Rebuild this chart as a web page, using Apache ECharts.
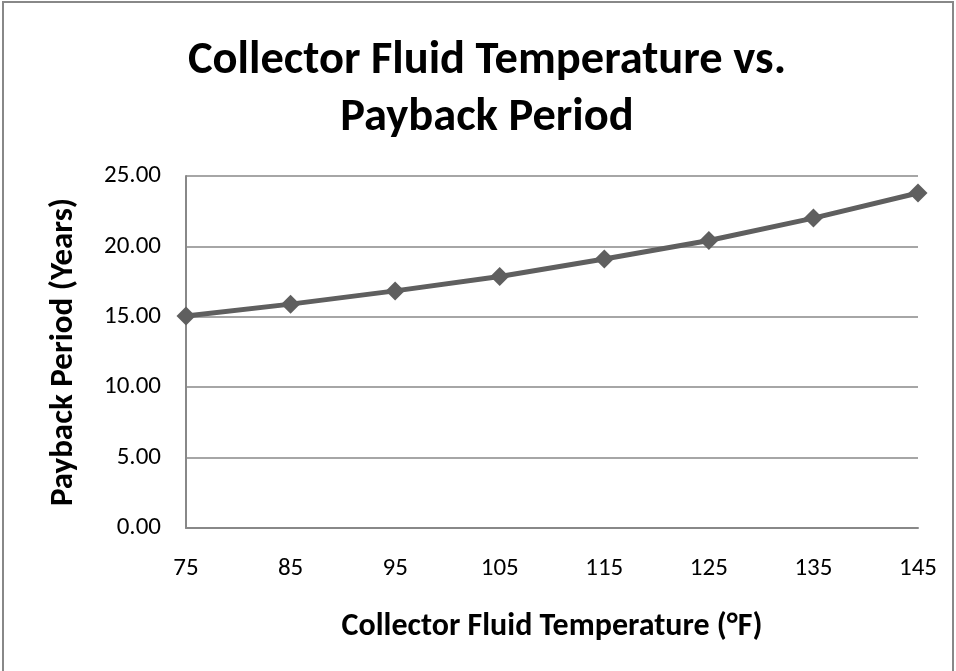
<!DOCTYPE html>
<html>
<head>
<meta charset="utf-8">
<script src="https://cdn.jsdelivr.net/npm/echarts@6/dist/echarts.min.js"></script>
<style>
  html, body { margin: 0; padding: 0; background: #fff; }
  #main { width: 956px; height: 671px; }
</style>
</head>
<body>
<div id="main"></div>
<script>
// collector fluid temperature (°F)
var temps = ["75", "85", "95", "105", "115", "125", "135", "145"];
// payback period (years)
var payback = [15.05, 15.9, 16.84, 17.86, 19.1, 20.42, 22.01, 23.79];
var yTicks = { min: 0, max: 25, step: 5 };

var font = "Carlito, 'Liberation Sans Narrow', 'Open Sans', sans-serif";

var chartDom = document.getElementById("main");
var myChart = echarts.init(chartDom);
var option;

option = {
  animation: false,
  backgroundColor: "#fff",
  title: {
    text: "Collector Fluid Temperature vs.\nPayback Period",
    left: 487,
    textAlign: "center",
    top: 33,
    padding: 0,
    textStyle: {
      fontFamily: font,
      fontSize: 46.5,
      fontWeight: "bold",
      color: "#000",
      lineHeight: 57
    }
  },
  graphic: [
    {
      type: "rect",
      shape: { x: 3, y: 2, width: 950, height: 680 },
      style: { fill: "none", stroke: "#888", lineWidth: 2 },
      silent: true
    }
  ],
  grid: {
    left: 186,
    right: 38,
    top: 176,
    bottom: 143
  },
  xAxis: {
    type: "category",
    data: temps,
    boundaryGap: false,
    name: "Collector Fluid Temperature (°F)",
    nameLocation: "middle",
    nameGap: 83,
    nameTextStyle: { fontFamily: font, fontSize: 32, fontWeight: "bold", color: "#000" },
    axisLine: { lineStyle: { color: "#888", width: 2 } },
    axisTick: { show: false },
    axisLabel: { fontFamily: font, fontSize: 25, color: "#000", margin: 28 },
    splitLine: { show: false }
  },
  yAxis: {
    type: "value",
    min: yTicks.min,
    max: yTicks.max,
    interval: yTicks.step,
    name: "Payback Period (Years)",
    nameLocation: "middle",
    nameGap: 106,
    nameRotate: 90,
    nameTextStyle: { fontFamily: font, fontSize: 33, fontWeight: "bold", color: "#000" },
    axisLine: { show: true, lineStyle: { color: "#888", width: 2 } },
    axisTick: { show: false },
    axisLabel: {
      fontFamily: font,
      fontSize: 25,
      color: "#000",
      margin: 25,
      formatter: function (v) { return v.toFixed(2); }
    },
    splitLine: { lineStyle: { color: "#888", width: 1.5 } }
  },
  series: [
    {
      type: "line",
      data: payback,
      symbol: "diamond",
      symbolSize: 19,
      lineStyle: { color: "#5f5f5f", width: 5 },
      itemStyle: { color: "#5f5f5f" }
    }
  ]
};

option && myChart.setOption(option);
</script>
</body>
</html>
